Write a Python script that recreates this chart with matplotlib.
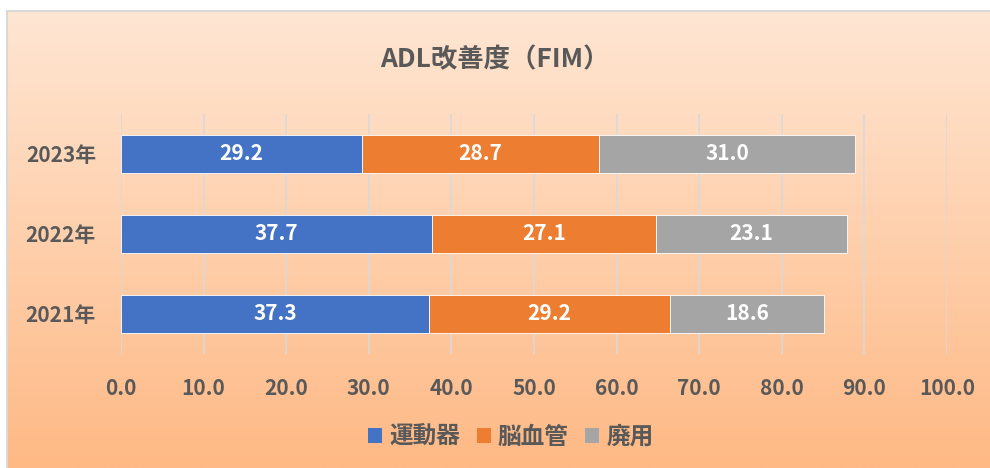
import matplotlib
matplotlib.use("Agg")
import matplotlib.pyplot as plt
import numpy as np
from matplotlib.patches import Rectangle
from matplotlib.colors import LinearSegmentedColormap

plt.rcParams['font.family'] = ['Noto Sans CJK JP', 'DejaVu Sans']

title = "ADL改善度（FIM）"
years = ["2021年", "2022年", "2023年"]
series_names = ["運動器", "脳血管", "廃用"]
undo = [37.3, 37.7, 29.2]
nou = [29.2, 27.1, 28.7]
haiyou = [18.6, 23.1, 31.0]
xticks = [0, 10, 20, 30, 40, 50, 60, 70, 80, 90, 100]
colors = ["#4472C4", "#ED7D31", "#A5A5A5"]
text_color = "#595959"

W, H = 990, 468
fig = plt.figure(figsize=(W / 100, H / 100), dpi=100)
fig.patch.set_facecolor("white")

# gradient background panel
bg = fig.add_axes([8 / W, 0, 1 - 8 / W, (H - 12) / H], zorder=-10)
cmap = LinearSegmentedColormap.from_list("g", ["#FEE6D3", "#FFB985"])
grad = np.linspace(0, 1, 256).reshape(-1, 1)
bg.imshow(grad, aspect="auto", cmap=cmap, extent=[0, 1, 0, 1], origin="upper")
bg.set_xlim(0, 1)
bg.set_ylim(0, 1)
bg.axis("off")
fig.patches.append(Rectangle((7 / W, -0.01), 1.0, (H - 11) / H + 0.01, transform=fig.transFigure,
                             fill=False, edgecolor="#D9D9D9", linewidth=1.5, zorder=-5))

ax = fig.add_axes([121 / W, 1 - 354 / H, 826 / W, (354 - 114) / H])
ax.set_facecolor("none")
y = np.arange(len(years))
data = [undo, nou, haiyou]
left = np.zeros(len(years))
for vals, c, name in zip(data, colors, series_names):
    bars = ax.barh(y, vals, left=left, height=0.475, color=c, edgecolor="#FFFFFF",
                   linewidth=0.6, label=name, zorder=3)
    for b, v in zip(bars, vals):
        ax.text(b.get_x() + b.get_width() / 2, b.get_y() + b.get_height() / 2, f"{v:.1f}",
                ha="center", va="center", color="white", fontsize=15, fontweight="bold", zorder=4)
    left = left + np.array(vals)

ax.set_xlim(0, 100)
ax.set_ylim(-0.5, 2.5)
ax.set_xticks(xticks)
ax.set_xticklabels([f"{t:.1f}" for t in xticks])
ax.set_yticks(y)
ax.set_yticklabels(years)
ax.tick_params(axis="both", length=0, colors=text_color, labelsize=15)
ax.tick_params(axis="x", pad=17)
ax.tick_params(axis="y", pad=18)
for lab in ax.get_xticklabels() + ax.get_yticklabels():
    lab.set_fontweight("bold")
ax.grid(axis="x", color="#D9D9D9", linewidth=1.2, zorder=0)
ax.set_axisbelow(True)
for s in ax.spines.values():
    s.set_visible(False)

fig.text(0.5, 1 - 60 / H, title, ha="center", va="center", fontsize=19,
         fontweight="bold", color=text_color)

handles, labels = ax.get_legend_handles_labels()
leg = fig.legend(handles, labels, loc="center", bbox_to_anchor=(0.516, 1 - 437 / H), ncol=3,
                 frameon=False, fontsize=17, handlelength=0.6, handleheight=0.6,
                 handletextpad=0.3, columnspacing=0.7)
for t in leg.get_texts():
    t.set_color(text_color)
    t.set_fontweight("bold")
for h in leg.legend_handles:
    h.set_edgecolor("none")

fig.savefig("out.png", dpi=100)
